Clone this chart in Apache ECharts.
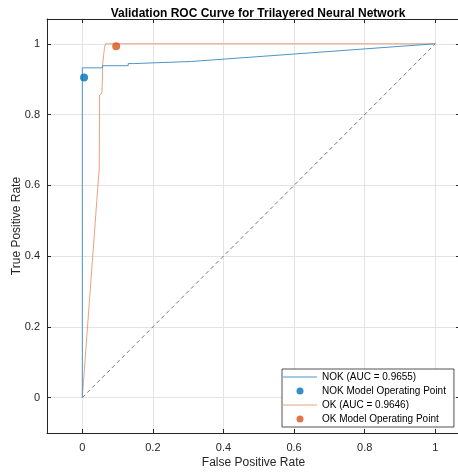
<!DOCTYPE html>
<html>
<head>
<meta charset="utf-8">
<script src="https://cdn.jsdelivr.net/npm/echarts@6/dist/echarts.min.js"></script>
<style>
  html, body { margin: 0; padding: 0; background: #fff; }
  #chart { width: 458px; height: 472px; }
</style>
</head>
<body>
<div id="chart"></div>
<script>
// ROC curve points
var nokFpr = [0, 0, 0.057, 0.057, 0.13, 0.13, 0.145, 0.145, 0.31, 1];
var nokTpr = [0, 0.932, 0.932, 0.938, 0.938, 0.944, 0.944, 0.949, 0.950, 1];
var okFpr = [0, 0.048, 0.049, 0.055, 0.056, 0.058, 0.06, 0.063, 0.066, 1];
var okTpr = [0, 0.65, 0.855, 0.86, 0.87, 0.946, 0.95, 0.99, 1, 1];
// model operating points
var nokPoint = [0.005, 0.905];
var okPoint = [0.096, 0.993];
// chance line
var diagFpr = [0, 1];
var diagTpr = [0, 1];
// tick labels
var xTicks = [0, 0.2, 0.4, 0.6, 0.8, 1];
var yTicks = [0, 0.2, 0.4, 0.6, 0.8, 1];

function pairs(xs, ys) {
	return xs.map(function(x, i) { return [x, ys[i]]; });
}

var axisColor = '#262626';
var gridColor = '#e3e3e3';
var font = 'Liberation Sans, Arial, sans-serif';
// thin bar used as the legend icon of the line series
var lineIcon = 'path://M0,0H34V1H0Z';

// box axes (top / right) only carry the line and inward ticks
function boxAxis(pos, min, max, ticks) {
	return {
		type: 'value',
		position: pos,
		min: min,
		max: max,
		axisLine: { show: true, onZero: false, lineStyle: { color: axisColor, width: 1 } },
		axisTick: { show: true, inside: true, length: 4, customValues: ticks, lineStyle: { color: axisColor } },
		axisLabel: { show: false },
		splitLine: { show: false }
	};
}

var chart = echarts.init(document.getElementById('chart'));

var option = {
	animation: false,
	backgroundColor: '#fff',
	title: {
		text: 'Validation ROC Curve for Trilayered Neural Network',
		left: 253,
		top: 3,
		textAlign: 'center',
		textStyle: { fontFamily: font, fontSize: 12, fontWeight: 'bold', color: '#000' }
	},
	grid: { left: 47, right: -2, top: 19, bottom: 39, containLabel: false, outerBoundsMode: 'none' },
	xAxis: [{
		type: 'value',
		min: -0.1,
		max: 1.07,
		name: 'False Positive Rate',
		nameLocation: 'middle',
		nameGap: 24,
		nameMoveOverlap: false,
		nameTextStyle: { fontFamily: font, fontSize: 12, color: axisColor },
		axisLine: { show: true, onZero: false, lineStyle: { color: axisColor, width: 1 } },
		axisTick: { show: true, inside: true, length: 4, customValues: xTicks, lineStyle: { color: axisColor } },
		axisLabel: { customValues: xTicks, fontFamily: font, fontSize: 11, color: axisColor, margin: 9 },
		splitLine: { show: true, lineStyle: { color: gridColor, width: 1 } }
	}, boxAxis('top', -0.1, 1.07, xTicks)],
	yAxis: [{
		type: 'value',
		min: -0.1,
		max: 1.07,
		name: 'True Positive Rate',
		nameLocation: 'middle',
		nameGap: 24,
		nameMoveOverlap: false,
		nameTextStyle: { fontFamily: font, fontSize: 12, color: axisColor },
		axisLine: { show: true, onZero: false, lineStyle: { color: axisColor, width: 1 } },
		axisTick: { show: true, inside: true, length: 4, customValues: yTicks, lineStyle: { color: axisColor } },
		axisLabel: { customValues: yTicks, fontFamily: font, fontSize: 11, color: axisColor, margin: 7 },
		splitLine: { show: true, lineStyle: { color: gridColor, width: 1 } }
	}, boxAxis('right', -0.1, 1.07, yTicks)],
	legend: {
		orient: 'vertical',
		left: 282,
		top: 369,
		padding: [3, 8, 3, 1],
		itemGap: 4,
		itemWidth: 34,
		itemHeight: 7,
		backgroundColor: '#fff',
		borderColor: axisColor,
		borderWidth: 0.8,
		borderRadius: 0,
		textStyle: { fontFamily: font, fontSize: 10, color: '#000' },
		data: [
			{ name: 'NOK (AUC = 0.9655)', icon: lineIcon },
			{ name: 'NOK Model Operating Point', icon: 'circle' },
			{ name: 'OK (AUC = 0.9646)', icon: lineIcon },
			{ name: 'OK Model Operating Point', icon: 'circle' }
		]
	},
	series: [{
		name: 'diag',
		type: 'line',
		data: pairs(diagFpr, diagTpr),
		symbol: 'none',
		silent: true,
		lineStyle: { color: '#555', width: 0.8, type: [4, 3] },
		z: 1
	}, {
		name: 'NOK (AUC = 0.9655)',
		type: 'line',
		data: pairs(nokFpr, nokTpr),
		symbol: 'none',
		lineStyle: { color: '#4d95c8', width: 1 },
		itemStyle: { color: '#4d95c8' },
		z: 3
	}, {
		name: 'NOK Model Operating Point',
		type: 'scatter',
		data: [nokPoint],
		symbolSize: 8,
		itemStyle: { color: '#0072BD' },
		z: 5
	}, {
		name: 'OK (AUC = 0.9646)',
		type: 'line',
		data: pairs(okFpr, okTpr),
		symbol: 'none',
		lineStyle: { color: '#eaa27f', width: 1 },
		itemStyle: { color: '#eaa27f' },
		z: 2
	}, {
		name: 'OK Model Operating Point',
		type: 'scatter',
		data: [okPoint],
		symbolSize: 8,
		itemStyle: { color: '#D95319' },
		z: 5
	}]
};

chart.setOption(option);
</script>
</body>
</html>
